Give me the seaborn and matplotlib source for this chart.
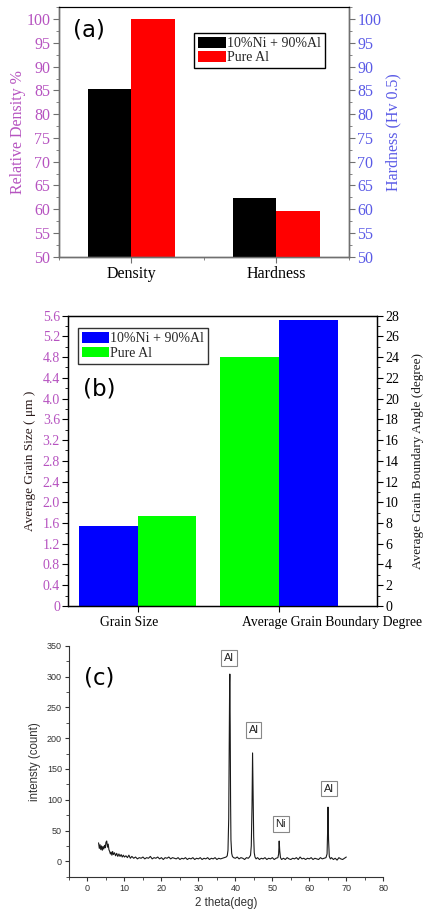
import numpy as np
import pandas as pd
import matplotlib
matplotlib.use("Agg")
import matplotlib.pyplot as plt
import seaborn as sns
from matplotlib.ticker import MultipleLocator, FuncFormatter

# ---------------- data ----------------
materials = ["10%Ni + 90%Al", "Pure Al"]

a_categories = ["Density", "Hardness"]
rel_density = [85.2, 100.0]      # Relative density %  (Ni-Al, Pure Al)
hardness = [62.3, 59.7]          # Hardness Hv0.5      (Ni-Al, Pure Al)

b_categories = ["Grain Size", "Average Grain Boundary Degree"]
grain_size = [1.55, 1.73]        # um   (Ni-Al, Pure Al)
gb_angle = [27.6, 24.0]          # deg  (Ni-Al, Pure Al)

xrd_theta = [
    3.0, 3.2, 3.4, 3.6, 3.8, 4.0, 4.2, 4.4, 4.6, 4.8, 5.0, 5.2, 5.4, 5.6, 5.8,
    6.0, 6.2, 6.4, 6.6, 6.8, 7.0, 7.3, 7.6, 7.9, 8.2, 8.5, 8.8, 9.1, 9.4, 9.7,
    10.0, 10.4, 10.8, 11.2, 11.6, 12.0,
    12.5, 13.0, 13.5, 14.0, 14.5, 15.0, 15.5, 16.0, 16.5, 17.0, 17.5, 18.0,
    18.5, 19.0, 19.5, 20.0, 20.5, 21.0, 21.5, 22.0, 22.5, 23.0, 23.5, 24.0,
    24.5, 25.0, 25.5, 26.0, 26.5, 27.0, 27.5, 28.0, 28.5, 29.0, 29.5, 30.0,
    30.5, 31.0, 31.5, 32.0, 32.5, 33.0, 33.5, 34.0, 34.5, 35.0, 35.5, 36.0,
    36.5, 37.0, 37.5,
    37.8, 38.0, 38.2, 38.35, 38.45, 38.5, 38.6, 38.7, 38.8, 39.0, 39.2, 39.5,
    40.0, 40.5, 41.0, 41.5, 42.0, 42.5, 43.0, 43.5, 43.8,
    44.1, 44.3, 44.5, 44.65, 44.8, 44.95, 45.1, 45.3, 45.6,
    46.0, 46.5, 47.0, 47.5, 48.0, 48.5, 49.0, 49.5, 50.0, 50.5, 51.0, 51.5,
    51.7, 51.85, 52.0, 52.2, 52.5,
    53.0, 53.5, 54.0, 54.5, 55.0, 55.5, 56.0, 56.5, 57.0, 57.5, 58.0, 58.5,
    59.0, 59.5, 60.0, 60.5, 61.0, 61.5, 62.0, 62.5, 63.0, 63.5, 64.0, 64.5,
    64.8, 64.95, 65.05, 65.2, 65.4, 65.7,
    66.0, 66.5, 67.0, 67.5, 68.0, 68.5, 69.0, 69.5, 70.0,
]
xrd_counts = [
    30, 21, 27, 19, 25, 18, 24, 20, 26, 22, 31, 33, 23, 28, 19,
    16, 12, 15, 10, 16, 11, 14, 9, 13, 8, 12, 8, 11, 7, 10,
    7, 9, 6, 10, 5, 8,
    5, 7, 4, 6, 5, 7, 4, 6, 5, 8, 4, 6,
    5, 7, 4, 6, 3, 6, 5, 7, 4, 6, 5, 4,
    6, 3, 5, 4, 6, 3, 5, 4, 6, 3, 5, 4,
    6, 3, 5, 4, 6, 3, 5, 4, 6, 3, 5, 4,
    5, 6, 7,
    9, 18, 70, 210, 290, 304, 220, 100, 35, 13, 8, 6,
    5, 7, 4, 6, 5, 3, 6, 5, 7,
    10, 25, 90, 176, 110, 40, 14, 7, 4,
    6, 3, 5, 4, 6, 3, 5, 4, 6, 3, 5, 6,
    12, 33, 17, 6, 3,
    5, 3, 6, 4, 3, 5, 4, 6, 3, 7, 4, 5,
    3, 5, 4, 6, 3, 5, 4, 3, 6, 4, 5, 6,
    12, 50, 88, 35, 8, 4,
    6, 3, 5, 2, 6, 4, 3, 5, 7,
]
peak_labels = ["Al", "Al", "Ni", "Al"]
peak_label_x = [38.3, 44.9, 52.3, 65.3]
peak_label_y = [330, 213, 61, 118]

# ---------------- style ----------------
sns.set_style("ticks")
plt.rcParams['font.family'] = ['Liberation Serif', 'DejaVu Sans']

PURPLE = "#b653c0"
BLUE_TXT = "#5a5ae6"
GRAY = "#707070"

fig = plt.figure(figsize=(4.28, 9.17), dpi=100)

# ================= panel (a) =================
ax1 = fig.add_axes([0.1371, 0.7201, 0.6783, 0.2720])
ax1r = ax1.twinx()
pal_a = {materials[0]: "#000000", materials[1]: "#ff0000"}

df_a1 = pd.DataFrame({"metric": a_categories[0], "material": materials, "value": rel_density})
df_a2 = pd.DataFrame({"metric": a_categories[1], "material": materials, "value": hardness})
sns.barplot(data=df_a1, x="metric", y="value", hue="material", order=a_categories,
            hue_order=materials, palette=pal_a, width=0.6, saturation=1,
            linewidth=0, errorbar=None, ax=ax1)
sns.barplot(data=df_a2, x="metric", y="value", hue="material", order=a_categories,
            hue_order=materials, palette=pal_a, width=0.6, saturation=1,
            linewidth=0, errorbar=None, legend=False, ax=ax1r)

for a in (ax1, ax1r):
    a.set_ylim(50, 102.5)
    a.yaxis.set_major_locator(MultipleLocator(5))
    a.yaxis.set_minor_locator(MultipleLocator(2.5))
    for s in ("left", "right", "bottom"):
        a.spines[s].set_color(GRAY)
        a.spines[s].set_linewidth(1.0)
    a.spines["top"].set_color("black")
    a.spines["top"].set_linewidth(0.8)
ax1.set_xlim(-0.5, 1.5)
ax1.set_xticks([0, 1])
ax1.set_xticklabels(a_categories)
ax1.xaxis.set_minor_locator(MultipleLocator(0.5))
ax1.tick_params(axis="x", which="major", direction="out", length=4, color=GRAY,
                labelsize=11.5, labelcolor="black", pad=3)
ax1.tick_params(axis="x", which="minor", direction="out", length=2, color=GRAY)
ax1.tick_params(axis="y", which="major", direction="out", length=4, color=GRAY,
                labelsize=11.5, labelcolor=PURPLE, pad=2, left=True)
ax1.tick_params(axis="y", which="minor", direction="out", length=2, color=GRAY, left=True)
ax1r.tick_params(axis="y", which="major", direction="out", length=4, color=GRAY,
                 labelsize=11.5, labelcolor=BLUE_TXT, pad=2, right=True)
ax1r.tick_params(axis="y", which="minor", direction="out", length=2, color=GRAY, right=True)
ax1.set_xlabel("")
ax1.set_ylabel("Relative Density %", color=PURPLE, fontsize=11.5, labelpad=0)
ax1r.set_ylabel("Hardness (Hv 0.5)", color=BLUE_TXT, fontsize=11.5, labelpad=3)

leg = ax1.get_legend()
h = leg.legend_handles
l = [t.get_text() for t in leg.get_texts()]
ax1.legend(h, l, loc="upper left", bbox_to_anchor=(0.466, 0.897), frameon=True,
           fancybox=False, edgecolor="black", framealpha=1, fontsize=10,
           handlelength=2.0, handleheight=0.8, handletextpad=0.05,
           labelspacing=0.05, borderpad=0.3, borderaxespad=0)
ax1.text(0.049, 0.909, "(a)", transform=ax1.transAxes, fontsize=16.5,
         family="DejaVu Sans", ha="left", va="center", color="black")

# ================= panel (b) =================
ax2 = fig.add_axes([0.1596, 0.3392, 0.7206, 0.3166])
ax2r = ax2.twinx()
pal_b = {materials[0]: "#0000ff", materials[1]: "#00ff00"}

df_b1 = pd.DataFrame({"metric": b_categories[0], "material": materials, "value": grain_size})
df_b2 = pd.DataFrame({"metric": b_categories[1], "material": materials, "value": gb_angle})
sns.barplot(data=df_b1, x="metric", y="value", hue="material", order=b_categories,
            hue_order=materials, palette=pal_b, width=0.83, saturation=1,
            linewidth=0, errorbar=None, ax=ax2)
sns.barplot(data=df_b2, x="metric", y="value", hue="material", order=b_categories,
            hue_order=materials[::-1], palette=pal_b, width=0.83, saturation=1,
            linewidth=0, errorbar=None, legend=False, ax=ax2r)

ax2.set_ylim(0, 5.6)
ax2r.set_ylim(0, 28)
ax2.yaxis.set_major_locator(MultipleLocator(0.4))
ax2.yaxis.set_minor_locator(MultipleLocator(0.2))
ax2.yaxis.set_major_formatter(FuncFormatter(lambda v, p: "0" if abs(v) < 1e-9 else f"{v:.1f}"))
ax2r.yaxis.set_major_locator(MultipleLocator(2))
ax2r.yaxis.set_minor_locator(MultipleLocator(1))
for a in (ax2, ax2r):
    for s in ("left", "right", "bottom", "top"):
        a.spines[s].set_color("black")
        a.spines[s].set_linewidth(0.9)
ax2.set_xlim(-0.49, 1.69)
ax2.set_xticks([0, 1])
ax2.set_xticklabels(["", ""])
ax2.set_xticks([-0.06, 1.377], minor=True)
ax2.set_xticklabels(b_categories, minor=True)
ax2.tick_params(axis="x", which="major", direction="out", length=4, color="black")
ax2.tick_params(axis="x", which="minor", length=0, labelsize=9.8, labelcolor="black", pad=7)
ax2.tick_params(axis="y", which="major", direction="out", length=4, color="black",
                labelsize=10, labelcolor=PURPLE, pad=2, left=True)
ax2.tick_params(axis="y", which="minor", direction="out", length=2, color="black", left=True)
ax2r.tick_params(axis="y", which="major", direction="out", length=4, color="black",
                 labelsize=10, labelcolor="black", pad=2, right=True)
ax2r.tick_params(axis="y", which="minor", direction="out", length=2, color="black", right=True)
ax2.set_xlabel("")
ax2r.set_xlabel("")
ax2.set_ylabel("Average Grain Size ( \u03bcm )", color="#2a1a1a", fontsize=9.5, labelpad=5)
ax2r.set_ylabel("Average Grain Boundary Angle (degree)", color="#1a1a1a", fontsize=9.5, labelpad=9)

leg = ax2.get_legend()
h = leg.legend_handles
l = [t.get_text() for t in leg.get_texts()]
ax2.legend(h, l, loc="upper left", bbox_to_anchor=(0.032, 0.957), frameon=True,
           fancybox=False, edgecolor="#333333", framealpha=1, fontsize=10,
           handlelength=1.9, handleheight=0.8, handletextpad=0.1,
           labelspacing=0.1, borderpad=0.3, borderaxespad=0)
ax2.text(0.048, 0.748, "(b)", transform=ax2.transAxes, fontsize=16.5,
         family="DejaVu Sans", ha="left", va="center", color="black")

# ================= panel (c) =================
ax3 = fig.add_axes([0.1612, 0.0439, 0.7343, 0.2519])
sns.lineplot(x=xrd_theta, y=xrd_counts, ax=ax3, color="#1a1a1a", linewidth=0.8,
             estimator=None, sort=False)
ax3.set_xlim(-5, 80)
ax3.set_ylim(-25, 350)
ax3.xaxis.set_major_locator(MultipleLocator(10))
ax3.xaxis.set_minor_locator(MultipleLocator(5))
ax3.yaxis.set_major_locator(MultipleLocator(50))
ax3.yaxis.set_minor_locator(MultipleLocator(25))
ax3.spines["top"].set_visible(False)
ax3.spines["right"].set_visible(False)
for s in ("left", "bottom"):
    ax3.spines[s].set_color("#333333")
    ax3.spines[s].set_linewidth(0.8)
ax3.tick_params(axis="both", which="major", direction="out", length=3, width=0.8,
                color="#333333", labelsize=6.5, labelcolor="#333333", pad=2,
                bottom=True, left=True)
ax3.tick_params(axis="both", which="minor", direction="out", length=2, width=0.6,
                color="#333333", bottom=True, left=True)
for lbl in ax3.get_xticklabels() + ax3.get_yticklabels():
    lbl.set_family("Liberation Sans")
ax3.set_xlabel("2 theta(deg)", fontsize=8.3, family="Liberation Sans", color="#333333", labelpad=3)
ax3.set_ylabel("intensty (count)", fontsize=8.3, family="Liberation Sans", color="#333333", labelpad=4)
for txt, px, py in zip(peak_labels, peak_label_x, peak_label_y):
    ax3.text(px, py, txt, ha="center", va="center", fontsize=8, family="Liberation Sans",
             color="#222222",
             bbox=dict(boxstyle="square,pad=0.25", fc="white", ec="#888888", lw=0.8))
ax3.text(0.048, 0.861, "(c)", transform=ax3.transAxes, fontsize=16.5,
         family="DejaVu Sans", ha="left", va="center", color="black")

fig.savefig("out.png", dpi=100)
